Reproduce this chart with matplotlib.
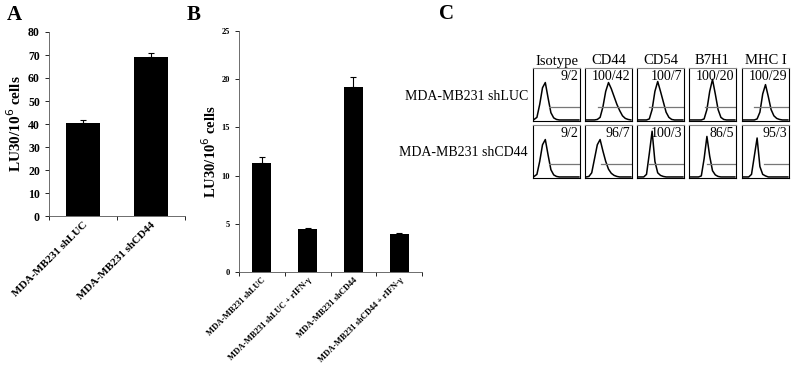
import matplotlib.pyplot as plt
import numpy as np

plt.rcParams['font.family'] = ['Liberation Serif', 'DejaVu Serif']

# panel A
a_labels = ["MDA-MB231 shLUC", "MDA-MB231 shCD44"]
a_vals = [40.5, 69.0]
a_err = [1.2, 2.0]

# panel B
b_labels = ["MDA-MB231 shLUC", "MDA-MB231 shLUC + rIFN-γ",
            "MDA-MB231 shCD44", "MDA-MB231 shCD44 + rIFN-γ"]
b_vals = [11.3, 4.5, 19.2, 3.9]
b_err = [0.6, 0.05, 1.0, 0.12]

# panel C - flow histograms (log decades 0..4)
c_cols = ["Isotype", "CD44", "CD54", "B7H1", "MHC I"]
c_rows = ["MDA-MB231 shLUC", "MDA-MB231 shCD44"]
c_nums = [["9/2", "100/42", "100/7", "100/20", "100/29"],
          ["9/2", "96/7", "100/3", "86/5", "95/3"]]
hist_x = [0, 0.25, 0.5, 0.75, 1.0, 1.25, 1.5, 1.75, 2.0, 2.25, 2.5, 2.75, 3.0, 3.25, 3.5, 3.75, 4.0]
hist_y = [
    [[0.01, 0.05, 0.3, 0.62, 0.72, 0.42, 0.14, 0.04, 0.01, 0, 0, 0, 0, 0, 0, 0, 0],
     [0, 0, 0, 0, 0.01, 0.05, 0.25, 0.55, 0.72, 0.6, 0.45, 0.3, 0.18, 0.08, 0.03, 0.01, 0],
     [0, 0, 0, 0, 0.02, 0.2, 0.55, 0.74, 0.55, 0.35, 0.15, 0.05, 0.01, 0, 0, 0, 0],
     [0, 0, 0, 0, 0, 0.02, 0.2, 0.55, 0.78, 0.5, 0.2, 0.05, 0.01, 0, 0, 0, 0],
     [0, 0, 0, 0, 0, 0.02, 0.15, 0.5, 0.68, 0.45, 0.2, 0.08, 0.03, 0.01, 0, 0, 0]],
    [[0.01, 0.05, 0.3, 0.62, 0.72, 0.42, 0.14, 0.04, 0.01, 0, 0, 0, 0, 0, 0, 0, 0],
     [0, 0.01, 0.08, 0.35, 0.62, 0.72, 0.5, 0.3, 0.15, 0.07, 0.03, 0.01, 0, 0, 0, 0, 0],
     [0, 0, 0, 0.05, 0.45, 0.88, 0.3, 0.08, 0.03, 0.01, 0, 0, 0, 0, 0, 0, 0],
     [0, 0, 0, 0, 0.02, 0.35, 0.78, 0.4, 0.12, 0.04, 0.01, 0, 0, 0, 0, 0, 0],
     [0, 0, 0, 0.05, 0.4, 0.75, 0.2, 0.05, 0.02, 0, 0, 0, 0, 0, 0, 0, 0]],
]
gate_start = [[1.3, 1.1, 1.0, 1.3, 1.0],
              [1.3, 1.3, 1.0, 1.5, 1.9]]

W, H = 794, 376
fig = plt.figure(figsize=(W / 100, H / 100), dpi=100)


def px_axes(x0, y0, x1, y1):
    return fig.add_axes([x0 / W, 1 - y1 / H, (x1 - x0) / W, (y1 - y0) / H])


def bar_panel(ax, labels, vals, errs, width, ymax, step, tick_fs, lab_fs, ylab_fs, ypad):
    n = len(vals)
    pos = np.arange(n) + 0.5
    ax.bar(pos, vals, width=width, color='black')
    ax.errorbar(pos, vals, yerr=[np.zeros(n), errs], fmt='none',
                ecolor='black', elinewidth=0.8, capsize=2, capthick=0.8)
    ax.set_xlim(0, n)
    ax.set_ylim(0, ymax)
    ax.set_yticks(np.arange(0, ymax + 1, step))
    ax.set_xticks(np.arange(0, n + 1))
    ax.set_xticklabels([])
    ax.set_xticks(pos, minor=True)
    ax.set_xticklabels(labels, minor=True, rotation=45, ha='right',
                       rotation_mode='anchor', fontsize=lab_fs, fontweight='bold')
    ax.tick_params(axis='x', which='minor', length=0, pad=3)
    ax.tick_params(axis='x', which='major', length=3, direction='out', width=0.6)
    ax.tick_params(axis='y', length=3, width=0.6, labelsize=tick_fs)
    for t in ax.get_yticklabels():
        t.set_fontweight('bold')
    for s in ['top', 'right']:
        ax.spines[s].set_visible(False)
    for s in ['left', 'bottom']:
        ax.spines[s].set_linewidth(0.6)
        ax.spines[s].set_color('#555555')
    ax.set_ylabel("LU30/10$^{6}$ cells", fontsize=ylab_fs, fontweight='bold', labelpad=ypad)


axA = px_axes(49, 32, 185, 216)
bar_panel(axA, a_labels, a_vals, a_err, 0.51, 80, 10, 8.5, 8, 11, 3)

axB = px_axes(239, 31, 422, 272)
bar_panel(axB, b_labels, b_vals, b_err, 0.42, 25, 5, 6, 6.2, 10.5, 1.5)

fig.text(14 / W, 1 - 15 / H, "A", fontsize=15, fontweight='bold', ha='center', va='center')
fig.text(194 / W, 1 - 15 / H, "B", fontsize=15, fontweight='bold', ha='center', va='center')
fig.text(447 / W, 1 - 14 / H, "C", fontsize=15, fontweight='bold', ha='center', va='center')

# panel C grid
box_x = [533, 585, 637, 689, 742]
box_w = 47
box_y = [68, 125]
box_h = 53
for r in range(2):
    for c in range(5):
        ax = px_axes(box_x[c], box_y[r], box_x[c] + box_w, box_y[r] + box_h)
        ax.plot(hist_x, hist_y[r][c], color='black', lw=1.1)
        ax.plot([gate_start[r][c], 4], [0.25, 0.25], color='#777777', lw=0.9)
        ax.set_xlim(-0.1, 4.1)
        ax.set_ylim(-0.02, 1.0)
        ax.set_xticks([])
        ax.set_yticks([])
        for s in ax.spines.values():
            s.set_linewidth(0.8)
        ax.spines['top'].set_color('#888888')
        ax.text(0.96, 0.97, c_nums[r][c], transform=ax.transAxes, ha='right', va='top',
                fontsize=10)
for c in range(5):
    fig.text((box_x[c] + box_w / 2) / W, 1 - 61 / H, c_cols[c], ha='center', va='center',
             fontsize=10.5)
for r in range(2):
    fig.text(528 / W, 1 - (box_y[r] + 28) / H, c_rows[r], ha='right', va='center',
             fontsize=10)

fig.savefig("out.png", dpi=100)
